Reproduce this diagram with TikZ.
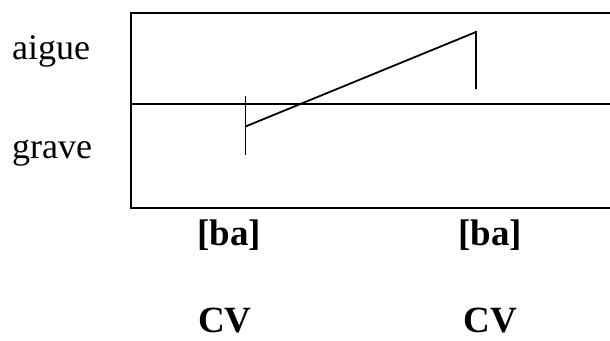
\documentclass[tikz,border=0pt]{standalone}
\usepackage{fontspec}
\setmainfont{Liberation Serif}
\begin{document}
\begin{tikzpicture}[x=1pt,y=-1pt,
  frame/.style={line width=1.4pt},
  contour/.style={line width=1.8pt},
  lab/.style={anchor=base west,inner sep=0pt,font=\fontsize{36}{43}\selectfont},
  seg/.style={anchor=base,inner sep=0pt,text depth=0pt,font=\fontsize{37}{44}\selectfont\bfseries}]
\useasboundingbox (0,0) rectangle (610,340);
% frame
\coordinate (tl) at (131,13);
\coordinate (tr) at (611,13);
\coordinate (ml) at (131,104);
\coordinate (mr) at (611,104);
\coordinate (bl) at (131,208);
\coordinate (br) at (611,208);
\draw[frame] (tr) -- (tl) -- (bl) -- (br);
\draw[frame] (ml) -- (mr);
% labels
\node[lab] (aigue) at (12,59) {aigue};
\node[lab] (grave) at (12,158) {grave};
% contour
\coordinate (t1top) at (245.5,96);
\coordinate (t1bot) at (245.5,155);
\coordinate (s) at (245.5,126.5);
\coordinate (e) at (476,32);
\coordinate (t2bot) at (476,89);
\draw[contour] (t1top) -- (t1bot);
\draw[contour] (s) -- (e) -- (t2bot);
% segment labels
\node[seg] (ba1) at (229,245) {[ba]};
\node[seg] (ba2) at (490,245) {[ba]};
\node[seg] (cv1) at (225,332) {CV};
\node[seg] (cv2) at (490,332) {CV};
\end{tikzpicture}
\end{document}
